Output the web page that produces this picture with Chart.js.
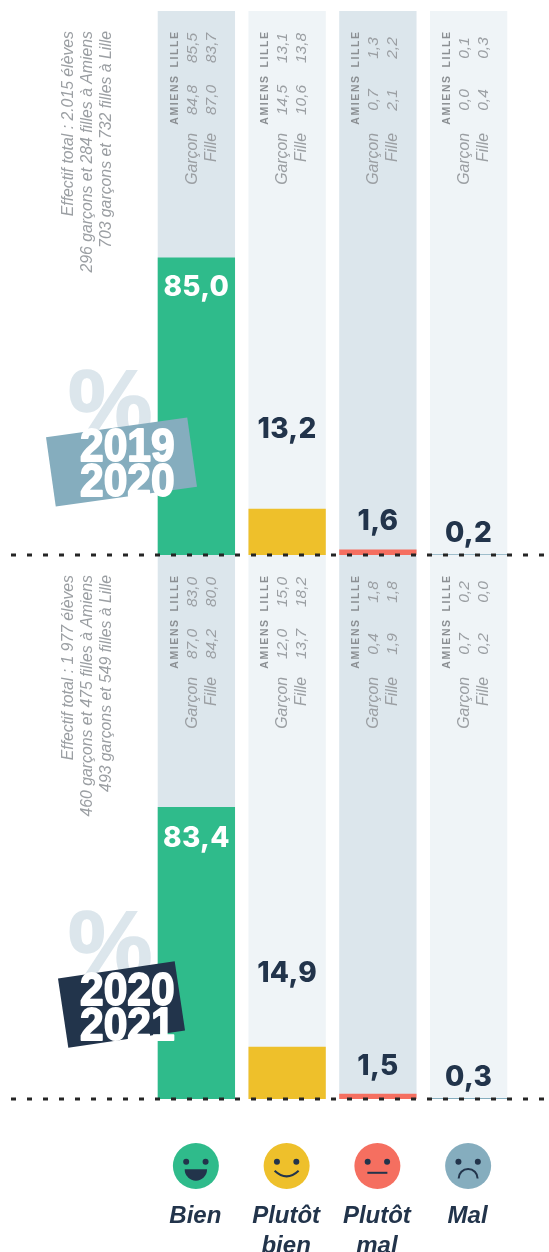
<!DOCTYPE html>
<html>
<head>
  <meta charset="UTF-8" />
  <title>Bien-être des élèves</title>
  <script src="https://cdn.jsdelivr.net/npm/chart.js"></script>
  <style>
    html, body { margin: 0; padding: 0; background: #fff; }
    body { position: relative; width: 549px; height: 1252px; overflow: hidden; }
    canvas { position: absolute; left: 0; }
    #chart1 { top: 0; z-index: 2; }
    #chart2 { top: 550px; z-index: 1; }
  </style>
</head>
<body>
  <canvas id="chart1" width="549" height="560"></canvas>
  <canvas id="chart2" width="549" height="702"></canvas>

  <script>
    const categories = ['Bien', 'Plutôt bien', 'Plutôt mal', 'Mal'];

    const values2019 = [85.0, 13.2, 1.6, 0.2];
    const garconAmiens2019 = [84.8, 14.5, 0.7, 0.0];
    const garconLille2019 = [85.5, 13.1, 1.3, 0.1];
    const filleAmiens2019 = [87.0, 10.6, 2.1, 0.4];
    const filleLille2019 = [83.7, 13.8, 2.2, 0.3];
    const notes2019 = [
      'Effectif total : 2.015 élèves',
      '296 garçons et 284 filles à Amiens',
      '703 garçons et 732 filles à Lille'
    ];
    const years2019 = ['2019', '2020'];

    const values2020 = [83.4, 14.9, 1.5, 0.3];
    const garconAmiens2020 = [87.0, 12.0, 0.4, 0.7];
    const garconLille2020 = [83.0, 15.0, 1.8, 0.2];
    const filleAmiens2020 = [84.2, 13.7, 1.9, 0.2];
    const filleLille2020 = [80.0, 18.2, 1.8, 0.0];
    const notes2020 = [
      'Effectif total : 1 977 élèves',
      '460 garçons et 475 filles à Amiens',
      '493 garçons et 549 filles à Lille'
    ];
    const years2020 = ['2020', '2021'];

    const AXIS_MAX = 155.4;
    const DARK = '#22344b';
    const GREY = '#9b9fa3';
    const barColors = ['#2fbb8b', '#eec02b', '#f56f60', '#85adbe'];
    const trackColors = ['#dce6ec', '#eff4f7', '#dce6ec', '#eff4f7'];

    const fmt = (v) => v.toFixed(1).replace('.', ',');

    // rotated text, reads bottom to top; y is where the text is anchored
    function upText(ctx, text, x, y, font, color, align, spacing) {
      ctx.save();
      ctx.translate(x, y);
      ctx.rotate(-Math.PI / 2);
      ctx.font = font;
      ctx.fillStyle = color;
      ctx.textAlign = align;
      ctx.textBaseline = 'alphabetic';
      ctx.letterSpacing = spacing || '0px';
      ctx.fillText(text, 0, 0);
      ctx.restore();
    }

    function drawFace(ctx, i, cx, cy) {
      ctx.save();
      ctx.fillStyle = barColors[i];
      ctx.beginPath();
      ctx.arc(cx, cy, 23, 0, Math.PI * 2);
      ctx.fill();
      ctx.fillStyle = DARK;
      ctx.strokeStyle = DARK;
      ctx.lineWidth = 2;
      [-9.7, 9.7].forEach((dx) => {
        ctx.beginPath();
        ctx.arc(cx + dx, cy - 4.3, 3, 0, Math.PI * 2);
        ctx.fill();
      });
      ctx.beginPath();
      if (i === 0) {
        ctx.ellipse(cx, cy + 3.3, 11.2, 11.4, 0, 0, Math.PI);
        ctx.closePath();
        ctx.fill();
      } else if (i === 1) {
        ctx.moveTo(cx - 12, cy + 4.8);
        ctx.quadraticCurveTo(cx, cy + 16, cx + 12, cy + 4.8);
        ctx.stroke();
      } else if (i === 2) {
        ctx.moveTo(cx - 10, cy + 6.8);
        ctx.lineTo(cx + 10, cy + 6.8);
        ctx.stroke();
      } else {
        ctx.arc(cx, cy + 12.4, 9.5, Math.PI, 0);
        ctx.stroke();
      }
      ctx.restore();
    }

    const panelPlugin = {
      id: 'panel',
      beforeDatasetsDraw(chart, args, o) {
        const ctx = chart.ctx;
        const area = chart.chartArea;
        const bars = chart.getDatasetMeta(0).data;
        ctx.save();
        // tracks behind the bars
        bars.forEach((bar, i) => {
          ctx.fillStyle = trackColors[i];
          ctx.fillRect(bar.x - bar.width / 2, area.top, bar.width, area.bottom - area.top);
        });
        // big percent sign
        ctx.font = 'bold 95px "Liberation Sans"';
        ctx.fillStyle = '#dce6ec';
        ctx.strokeStyle = '#dce6ec';
        ctx.lineWidth = 1.5;
        ctx.textAlign = 'left';
        ctx.textBaseline = 'alphabetic';
        ctx.fillText('%', 68, o.percentBase);
        ctx.strokeText('%', 68, o.percentBase);
        ctx.restore();
      },
      afterDatasetsDraw(chart, args, o) {
        const ctx = chart.ctx;
        const area = chart.chartArea;
        const bars = chart.getDatasetMeta(0).data;
        const top = area.top;
        const sans = '"Liberation Sans"';

        // notes on the left
        o.notes.forEach((line, i) => {
          upText(ctx, line, o.noteX[i], top + 20, 'italic 15.8px ' + sans, GREY, 'right');
        });

        bars.forEach((bar, i) => {
          const left = bar.x - bar.width / 2;
          // small table
          upText(ctx, 'LILLE', left + 20, top + 38, 'bold 10.5px ' + sans, '#8b8f93', 'center', '1.6px');
          upText(ctx, 'AMIENS', left + 20, top + 88.5, 'bold 10.5px ' + sans, '#8b8f93', 'center', '1.6px');
          const font = 'italic 15.5px ' + sans;
          upText(ctx, fmt(o.garconLille[i]), left + 39, top + 37, font, GREY, 'center');
          upText(ctx, fmt(o.garconAmiens[i]), left + 39, top + 89, font, GREY, 'center');
          upText(ctx, 'Garçon', left + 39, top + 122, 'italic 15.8px ' + sans, GREY, 'right');
          upText(ctx, fmt(o.filleLille[i]), left + 58, top + 37, font, GREY, 'center');
          upText(ctx, fmt(o.filleAmiens[i]), left + 58, top + 89, font, GREY, 'center');
          upText(ctx, 'Fille', left + 58, top + 122, 'italic 15.8px ' + sans, GREY, 'right');

          // value label
          ctx.save();
          ctx.font = '800 28px Inter';
          ctx.textAlign = 'center';
          ctx.textBaseline = 'middle';
          ctx.letterSpacing = '0.3px';
          ctx.fillStyle = i === 0 ? '#fff' : DARK;
          ctx.fillText(fmt(o.values[i]), bar.x, bar.y + o.labelShift[i]);
          ctx.restore();
        });

        // tilted year badge
        const b = o.badge;
        ctx.save();
        ctx.translate(b.x, b.y);
        ctx.rotate(b.angle * Math.PI / 180);
        ctx.fillStyle = b.color;
        ctx.fillRect(-b.w / 2, -35, b.w, 70);
        ctx.restore();
        ctx.save();
        ctx.font = 'bold 47px ' + sans;
        ctx.fillStyle = '#fff';
        ctx.strokeStyle = '#fff';
        ctx.lineWidth = 1.8;
        ctx.lineJoin = 'round';
        ctx.textAlign = 'left';
        ctx.textBaseline = 'alphabetic';
        o.years.forEach((y, i) => {
          ctx.save();
          ctx.translate(80, b.textBase + i * 35);
          ctx.scale(0.905, 1);
          ctx.fillText(y, 0, 0);
          ctx.strokeText(y, 0, 0);
          ctx.restore();
        });
        ctx.restore();

        // dashed baseline
        ctx.save();
        ctx.strokeStyle = '#252525';
        ctx.lineWidth = 3;
        ctx.setLineDash([5, 11]);
        ctx.beginPath();
        ctx.moveTo(o.dashStart, area.bottom);
        ctx.lineTo(546, area.bottom);
        ctx.stroke();
        ctx.restore();

        // faces and names under the last panel
        if (o.footer) {
          bars.forEach((bar, i) => {
            drawFace(ctx, i, bar.x - 0.5, area.bottom + 67);
            ctx.save();
            ctx.font = 'italic bold 24px ' + sans;
            ctx.fillStyle = DARK;
            ctx.textAlign = 'center';
            categories[i].split(' ').forEach((word, k) => {
              ctx.fillText(word, bar.x - 1, area.bottom + 124 + k * 30);
            });
            ctx.restore();
          });
        }
      }
    };

    const makeChart = (id, values, padding, panel) => new Chart(document.getElementById(id), {
      type: 'bar',
      data: {
        labels: categories,
        datasets: [{
          data: values,
          backgroundColor: barColors,
          borderWidth: 0,
          barPercentage: 1,
          categoryPercentage: 0.852
        }]
      },
      options: {
        responsive: false,
        animation: false,
        layout: { padding: padding },
        scales: {
          x: { display: false },
          y: { display: false, min: 0, max: AXIS_MAX }
        },
        plugins: {
          legend: { display: false },
          tooltip: { enabled: false },
          panel: panel
        }
      },
      plugins: [panelPlugin]
    });

    makeChart('chart1', values2019, { left: 151, right: 35, top: 11, bottom: 5 }, {
      values: values2019,
      garconAmiens: garconAmiens2019, garconLille: garconLille2019,
      filleAmiens: filleAmiens2019, filleLille: filleLille2019,
      notes: notes2019, noteX: [73, 92, 111],
      years: years2019,
      labelShift: [30, -79, -28, -21],
      percentBase: 436,
      badge: { x: 121.5, y: 462, w: 142.6, angle: -8, color: '#85adbe', textBase: 461 },
      dashStart: -5,
      footer: false
    });

    makeChart('chart2', values2020, { left: 151, right: 35, top: 5, bottom: 153 }, {
      values: values2020,
      garconAmiens: garconAmiens2020, garconLille: garconLille2020,
      filleAmiens: filleAmiens2020, filleLille: filleLille2020,
      notes: notes2020, noteX: [73, 92, 111],
      years: years2020,
      labelShift: [32, -73, -27, -20],
      percentBase: 427,
      badge: { x: 121.5, y: 454.5, w: 118, angle: -8.5, color: DARK, textBase: 455 },
      dashStart: 11,
      footer: true
    });
  </script>
</body>
</html>
